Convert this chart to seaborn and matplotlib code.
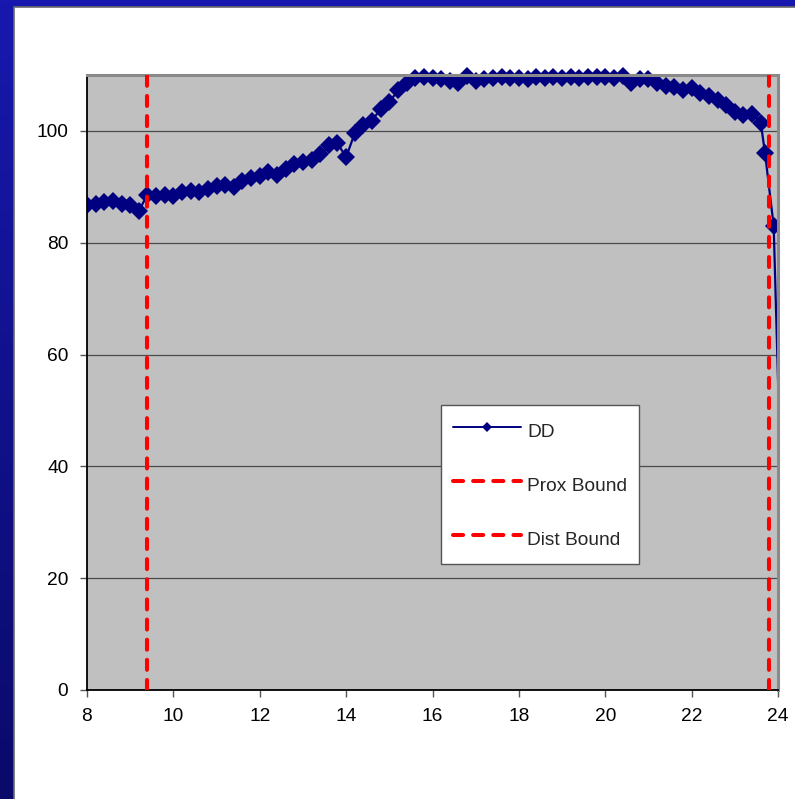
import numpy as np
import matplotlib
matplotlib.use("Agg")
import matplotlib.pyplot as plt
from matplotlib.colors import LinearSegmentedColormap
from matplotlib.patches import Rectangle
import seaborn as sns

# Depth positions and dose readings for the DD curve
depth = [8.0, 8.2, 8.4, 8.6, 8.8, 9.0, 9.2, 9.4, 9.6, 9.8,
         10.0, 10.2, 10.4, 10.6, 10.8, 11.0, 11.2, 11.4, 11.6, 11.8,
         12.0, 12.2, 12.4, 12.6, 12.8, 13.0, 13.2, 13.4, 13.6, 13.8,
         14.0, 14.2, 14.4, 14.6, 14.8, 15.0, 15.2, 15.4, 15.6, 15.8,
         16.0, 16.2, 16.4, 16.6, 16.8, 17.0, 17.2, 17.4, 17.6, 17.8,
         18.0, 18.2, 18.4, 18.6, 18.8, 19.0, 19.2, 19.4, 19.6, 19.8,
         20.0, 20.2, 20.4, 20.6, 20.8, 21.0, 21.2, 21.4, 21.6, 21.8,
         22.0, 22.2, 22.4, 22.6, 22.8, 23.0, 23.2, 23.4, 23.6, 23.7,
         23.9, 24.1]
dd = [86.8, 87.0, 87.2, 87.4, 86.9, 86.8, 85.7, 88.6, 88.4, 88.6,
      88.3, 89.0, 89.2, 89.0, 89.6, 90.2, 90.4, 90.0, 91.0, 91.5,
      92.0, 92.6, 92.2, 93.2, 94.0, 94.5, 94.8, 95.8, 97.4, 97.8,
      95.3, 99.6, 101.0, 101.8, 104.0, 105.1, 107.3, 108.5, 109.5, 109.6,
      109.5, 109.3, 109.0, 108.6, 109.9, 109.0, 109.3, 109.5, 109.6, 109.4,
      109.5, 109.2, 109.6, 109.5, 109.7, 109.4, 109.6, 109.5, 109.7, 109.6,
      109.7, 109.5, 109.9, 108.6, 109.2, 109.2, 108.6, 108.0, 107.8, 107.3,
      107.6, 106.8, 106.3, 105.6, 104.6, 103.3, 102.9, 103.1, 101.5, 96.0,
      83.0, 28.0]

prox_bound = 9.4
dist_bound = 23.8

x_ticks = [8, 10, 12, 14, 16, 18, 20, 22, 24]
y_ticks = [0, 20, 40, 60, 80, 100]

sns.set_style("white")
plt.rcParams["font.family"] = ["Liberation Sans", "DejaVu Sans"]

W, H = 795, 799
fig = plt.figure(figsize=(W / 100, H / 100), dpi=100)

# Slide backdrop: blue gradient frame with a white panel
bg = fig.add_axes([0, 0, 1, 1], zorder=-10)
cmap = LinearSegmentedColormap.from_list("slide", ["#1818ae", "#0a0a6a"])
bg.imshow(np.linspace(0, 1, 256).reshape(-1, 1), aspect="auto", cmap=cmap,
          extent=[0, 1, 0, 1])
bg.add_patch(Rectangle((13.5 / W, -0.01), 1.0, (H - 7) / H + 0.01,
                       transform=bg.transAxes, facecolor="white",
                       edgecolor="#6a6a6a", lw=1.2))
bg.set_xlim(0, 1)
bg.set_ylim(0, 1)
bg.axis("off")

ax = fig.add_axes([87 / W, 1 - 690 / H, 691 / W, 615 / H])
ax.set_facecolor("#C0C0C0")

sns.lineplot(x=depth, y=dd, ax=ax, color="#000080", lw=1.6, marker="D",
             markersize=9.0, markeredgecolor="#000080", markeredgewidth=0,
             markevery=list(range(len(depth) - 1)),
             sort=False, estimator=None, label="DD")
dd_line = ax.lines[0]
dd_line.set_clip_path(Rectangle((0, 0), 1.0, 1.08, transform=ax.transAxes))

dash = dict(color="#FF0000", lw=2.9, linestyle=(0, (2.5, 2.5)),
            dash_capstyle="round", zorder=3)
ax.axvline(prox_bound, label="Prox Bound", **dash)
ax.axvline(dist_bound, label="Dist Bound", **dash)

ax.set_xlim(8, 24)
ax.set_ylim(0, 110)
ax.set_xticks(x_ticks)
ax.set_yticks(y_ticks)
ax.yaxis.grid(True, color="#4a4a4a", lw=0.9)
ax.xaxis.grid(False)
ax.set_axisbelow(True)

for side in ("left", "bottom"):
    ax.spines[side].set_color("black")
    ax.spines[side].set_linewidth(1.3)
for side in ("top", "right"):
    ax.spines[side].set_color("#8a8a8a")
    ax.spines[side].set_linewidth(2.2)

ax.tick_params(axis="both", which="major", direction="out", length=5,
               width=1, color="#555555", labelsize=13.8, labelcolor="black",
               left=True, bottom=True)
ax.tick_params(axis="y", pad=8.5)
ax.tick_params(axis="x", pad=8)

leg = ax.legend(loc="upper left", bbox_to_anchor=(0.5123, 0.4634),
                frameon=True, fancybox=False, framealpha=1,
                edgecolor="#555555", facecolor="white", fontsize=13.8,
                handlelength=3.55, handleheight=1.84, handletextpad=0.32,
                labelspacing=1.37, borderpad=0.62, borderaxespad=0)
leg.get_frame().set_linewidth(1.0)
leg.legend_handles[0].set_markersize(5.2)
leg.legend_handles[0].set_linewidth(1.4)

fig.savefig("out.png", dpi=100)
